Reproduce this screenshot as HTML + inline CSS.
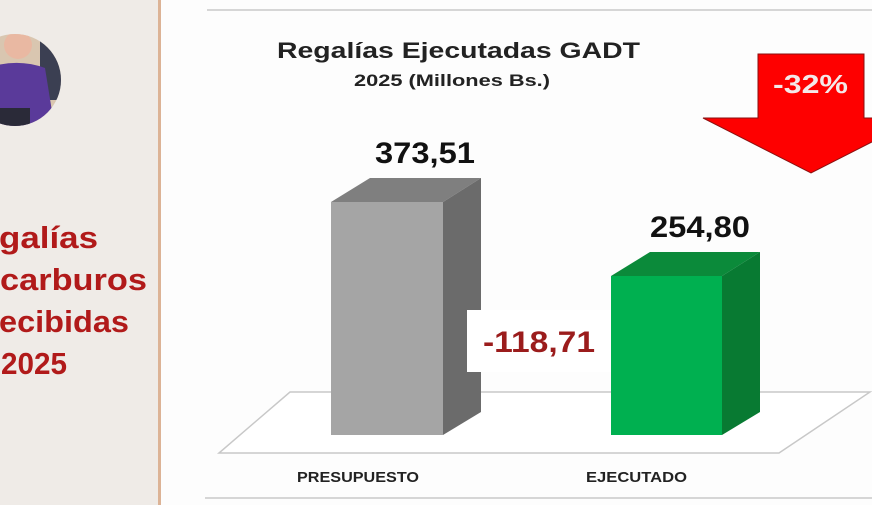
<!DOCTYPE html>
<html><head><meta charset="utf-8"><style>
html,body{margin:0;padding:0;width:872px;height:505px;overflow:hidden;background:#fff}
svg{display:block}
</style></head><body>
<svg width="872" height="505" viewBox="0 0 872 505" xmlns="http://www.w3.org/2000/svg" font-family="Liberation Sans, sans-serif">
<rect x="0" y="0" width="160" height="505" fill="#efebe7"/>
<rect x="158" y="0" width="3" height="505" fill="#dcb396"/>
<rect x="161" y="0" width="711" height="505" fill="#fdfdfd"/>
<defs><clipPath id="c"><circle cx="15" cy="80" r="46"/></clipPath></defs>
<g clip-path="url(#c)">
<rect x="-40" y="30" width="110" height="100" fill="#d9c6b0"/>
<rect x="40" y="40" width="25" height="60" fill="#3b3f52"/>
<path d="M-30 75 Q10 55 45 68 L55 130 L-30 130Z" fill="#5a3a9a"/>
<circle cx="18" cy="45" r="14" fill="#e9b8a2"/>
<rect x="-10" y="130" width="50" height="12" fill="#ccc"/>
<rect x="-30" y="108" width="60" height="22" fill="#2a2a38"/>
</g>
<g fill="#b11a1a" font-weight="bold" font-size="31">
<text x="-1" y="248" textLength="99" lengthAdjust="spacingAndGlyphs">galías</text>
<text x="0" y="290" textLength="147" lengthAdjust="spacingAndGlyphs">carburos</text>
<text x="-1" y="332" textLength="130" lengthAdjust="spacingAndGlyphs">ecibidas</text>
<text x="1" y="374" textLength="66" lengthAdjust="spacingAndGlyphs">2025</text>
</g>
<line x1="207" y1="10" x2="872" y2="10" stroke="#d6d6d6" stroke-width="2"/>
<line x1="205" y1="498" x2="872" y2="498" stroke="#d6d6d6" stroke-width="2"/>
<text x="277" y="58" font-size="22" font-weight="bold" fill="#222" textLength="363" lengthAdjust="spacingAndGlyphs">Regalías Ejecutadas  GADT</text>
<text x="354" y="86" font-size="17" font-weight="bold" fill="#222" textLength="196" lengthAdjust="spacingAndGlyphs">2025 (Millones Bs.)</text>
<polygon points="219,453 779,453 870,392 290,392" fill="#fff" stroke="#c8c8c8" stroke-width="1.5"/>
<polygon points="331,202 370,178 481,178 443,202" fill="#7f7f7f"/>
<polygon points="443,202 481,178 481,412 443,435" fill="#6b6b6b"/>
<rect x="331" y="202" width="112" height="233" fill="#a5a5a5"/>
<polygon points="611,276 650,252 760,252 722,276" fill="#0b8a3a"/>
<polygon points="722,276 760,252 760,412 722,435" fill="#087a32"/>
<rect x="611" y="276" width="111" height="159" fill="#00b050"/>
<rect x="467" y="310" width="144" height="62" fill="#fff"/>
<text x="483" y="352" font-size="30" font-weight="bold" fill="#9b1c1c" textLength="112" lengthAdjust="spacingAndGlyphs">-118,71</text>
<text x="375" y="163" font-size="30" font-weight="bold" fill="#111" textLength="100" lengthAdjust="spacingAndGlyphs">373,51</text>
<text x="650" y="237" font-size="30" font-weight="bold" fill="#111" textLength="100" lengthAdjust="spacingAndGlyphs">254,80</text>
<text x="297" y="482" font-size="15" font-weight="bold" fill="#222" textLength="122" lengthAdjust="spacingAndGlyphs">PRESUPUESTO</text>
<text x="586" y="482" font-size="15" font-weight="bold" fill="#222" textLength="101" lengthAdjust="spacingAndGlyphs">EJECUTADO</text>
<polygon points="758,54 864,54 864,118 919,118 811,173 703,118 758,118" fill="#fe0000" stroke="#8b1010" stroke-width="1"/>
<text x="773" y="93" font-size="26" font-weight="bold" fill="#f4e8e8" textLength="75" lengthAdjust="spacingAndGlyphs">-32%</text>
</svg>
</body></html>
